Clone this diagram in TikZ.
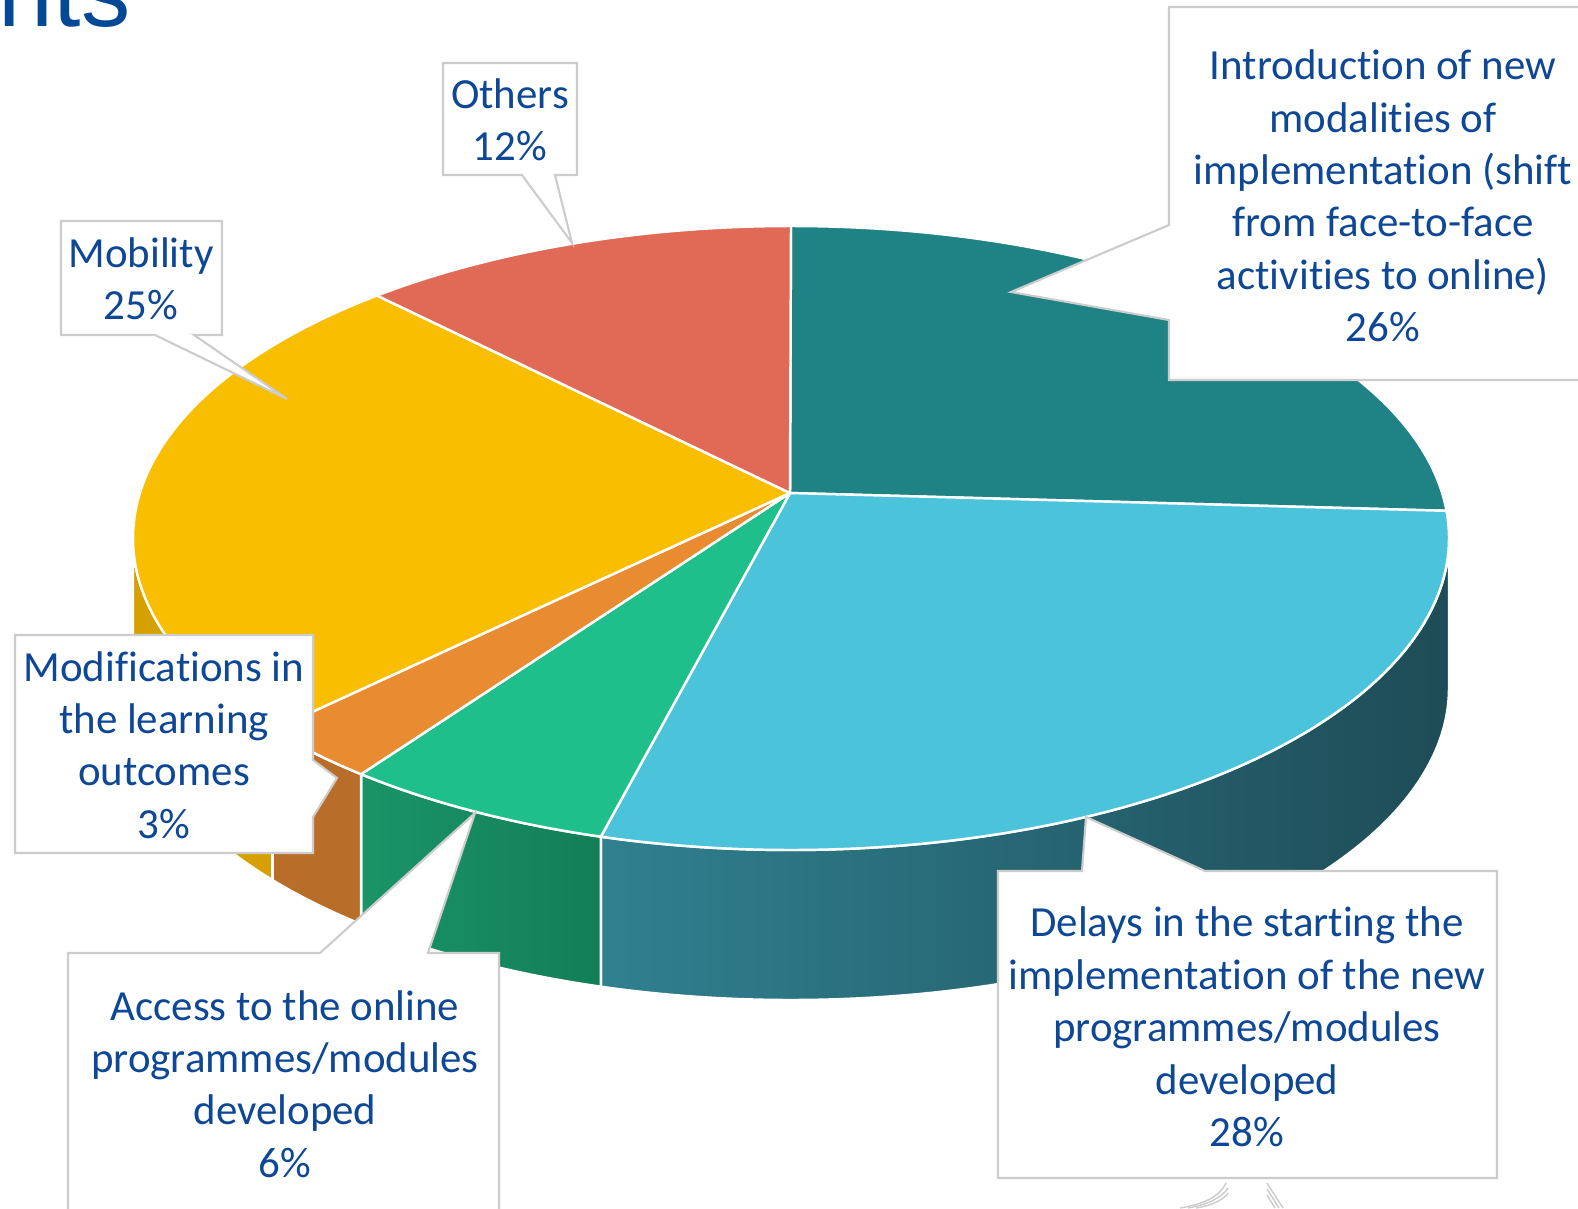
\documentclass[tikz,border=0pt]{standalone}
\usepackage{fontspec}
\setmainfont{Carlito}[Ligatures=NoCommon]
\newfontfamily\titlefont{Liberation Sans}

\definecolor{tealtop}{RGB}{31,131,133}
\definecolor{bluetop}{RGB}{75,195,219}
\definecolor{greentop}{RGB}{30,191,138}
\definecolor{orangetop}{RGB}{233,140,49}
\definecolor{yellowtop}{RGB}{249,190,0}
\definecolor{redtop}{RGB}{224,106,85}
\definecolor{bluesideL}{RGB}{48,128,144}
\definecolor{bluesideR}{RGB}{30,76,87}
\definecolor{greensideL}{RGB}{26,148,104}
\definecolor{greensideR}{RGB}{19,126,88}
\definecolor{orangeside}{RGB}{184,110,41}
\definecolor{yellowside}{RGB}{214,161,0}
\definecolor{calloutgray}{RGB}{204,204,204}
\definecolor{lblblue}{RGB}{13,71,150}
\definecolor{titleblue}{RGB}{3,73,150}

\newcommand\pierim[1]{({791+658*cos(#1)},{538+312*sin(#1)})}

\tikzset{
  slice/.style={draw=white,line width=0.7pt,line join=round},
  callout/.style={fill=white,draw=calloutgray,line width=0.6pt},
  lbl/.style={text=lblblue,align=center,inner sep=0pt,font=\fontsize{12.2}{14.9}\selectfont},
  ell/.style={x radius=658,y radius=312}
}

\begin{document}
\begin{tikzpicture}[x=0.01cm,y=-0.01cm]
\useasboundingbox (0,0) rectangle (1578,1208);

\node[anchor=base east,inner sep=0pt,text=titleblue,font=\titlefont\fontsize{28}{30}\selectfont] (ttl) at (131,26) {nts};

% sides
\fill[slice,left color=bluesideL,right color=bluesideR] \pierim{0} arc[start angle=0,end angle=106.8,ell] -- ++(0,150) arc[start angle=106.8,end angle=0,ell] -- cycle;
\fill[slice,left color=greensideL,right color=greensideR] \pierim{106.8} arc[start angle=106.8,end angle=130.8,ell] -- ++(0,150) arc[start angle=130.8,end angle=106.8,ell] -- cycle;
\fill[slice,fill=orangeside] \pierim{130.8} arc[start angle=130.8,end angle=142,ell] -- ++(0,150) arc[start angle=142,end angle=130.8,ell] -- cycle;
\fill[slice,fill=yellowside] \pierim{142} arc[start angle=142,end angle=180,ell] -- ++(0,150) arc[start angle=180,end angle=142,ell] -- cycle;
\draw[slice] \pierim{106.8} -- ++(0,150);
\draw[slice] \pierim{130.8} -- ++(0,150);
\draw[slice] \pierim{142} -- ++(0,150);

% top
\coordinate (apex) at (790,493);
\filldraw[slice,fill=tealtop] (apex) -- \pierim{-90} arc[start angle=-90,end angle=-5,ell] -- cycle;
\filldraw[slice,fill=bluetop] (apex) -- \pierim{-5} arc[start angle=-5,end angle=106.8,ell] -- cycle;
\filldraw[slice,fill=greentop] (apex) -- \pierim{106.8} arc[start angle=106.8,end angle=130.8,ell] -- cycle;
\filldraw[slice,fill=orangetop] (apex) -- \pierim{130.8} arc[start angle=130.8,end angle=142,ell] -- cycle;
\filldraw[slice,fill=yellowtop] (apex) -- \pierim{142} arc[start angle=142,end angle=231,ell] -- cycle;
\filldraw[slice,fill=redtop] (apex) -- \pierim{231} arc[start angle=231,end angle=270,ell] -- cycle;

% callouts
\filldraw[callout] (443,63) -- (577,63) -- (577,175) -- (555,175) -- (572,243) -- (522,175) -- (443,175) -- cycle;
\filldraw[callout] (61,221) -- (222,221) -- (222,335) -- (194,335) -- (287,399) -- (155,335) -- (61,335) -- cycle;
\filldraw[callout] (15,635) -- (313,635) -- (313,760) -- (337,778) -- (313,817) -- (313,853) -- (15,853) -- cycle;
\filldraw[callout] (68,1230) -- (68,953) -- (320,953) -- (475,813) -- (428,953) -- (499,953) -- (499,1230);
\filldraw[callout] (998,871) -- (1082,871) -- (1086,817) -- (1205,871) -- (1497,871) -- (1497,1178) -- (998,1178) -- cycle;
\filldraw[callout] (1620,7) -- (1169,7) -- (1169,225) -- (1011,292) -- (1169,320) -- (1169,380) -- (1620,380);

\node[lbl] (oth) at (510,120) {Others\\12\%};
\node[lbl] (mob) at (141,279) {Mobility\\25\%};
\node[lbl] (mod) at (164,745) {Modifications in\\the learning\\outcomes\\3\%};
\node[lbl] (acc) at (285,1084) {Access to the online\\programmes/modules\\developed\\6\%};
\node[lbl] (del) at (1247,1027) {Delays in the starting the\\implementation of the new\\programmes/modules\\developed\\28\%};
\node[lbl] (intro) at (1383,196) {Introduction of new\\modalities of\\implementation (shift\\from face-to-face\\activities to online)\\26\%};

\draw[calloutgray,line width=0.4pt] (1180,1208) .. controls (1205,1204) and (1220,1196) .. (1226,1183);
\draw[calloutgray,line width=0.4pt] (1188,1208) .. controls (1210,1204) and (1222,1197) .. (1228,1188);
\draw[calloutgray,line width=0.4pt] (1196,1208) .. controls (1214,1205) and (1224,1199) .. (1228,1193);
\draw[calloutgray,line width=0.4pt] (1267,1183) -- (1283,1208);
\draw[calloutgray,line width=0.4pt] (1267,1189) -- (1279,1208);
\draw[calloutgray,line width=0.4pt] (1267,1195) -- (1275,1208);
\end{tikzpicture}
\end{document}
